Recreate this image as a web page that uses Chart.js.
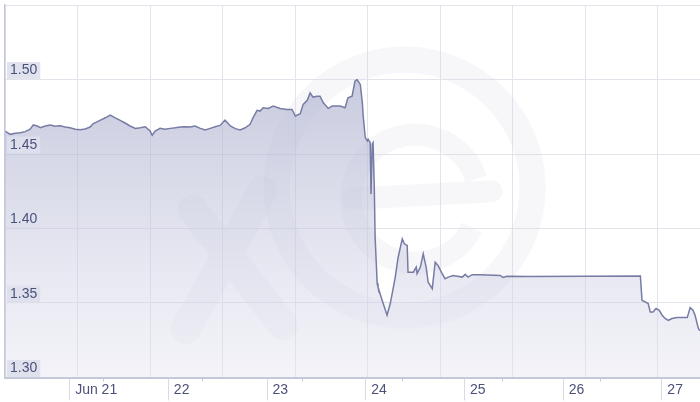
<!DOCTYPE html>
<html>
<head>
<meta charset="utf-8">
<script src="https://cdn.jsdelivr.net/npm/chart.js@4/dist/chart.umd.min.js"></script>
<style>
  html, body { margin: 0; padding: 0; background: #fff; }
  #wrap { width: 700px; height: 402px; }
</style>
</head>
<body>
<div id="wrap"><canvas id="rate" width="700" height="402"></canvas></div>
<script>
// time in hours counted from Jun 20 00:00, rate
const hours = [
  8.4, 9.7, 10.9, 12.1, 13.3, 14.5, 15.3, 16.2, 17.0, 18.2, 19.4, 20.6, 21.8, 23.0,
  24.2, 25.5, 26.7, 27.9, 29.1, 29.8, 31.5, 32.8, 34.0, 35.2, 36.4, 37.6, 38.8,
  40.1, 41.3, 42.5, 43.7, 44.2, 44.9, 46.1, 47.3, 48.6, 49.8, 51.0, 52.2, 53.4,
  54.6, 55.9, 57.1, 58.3, 59.5, 60.7, 61.9, 63.2, 64.4, 65.6, 66.8, 68.0, 68.7,
  69.7, 70.4, 71.2, 72.4, 73.6, 75.3, 77.0, 78.2, 79.0, 80.2, 80.9, 81.9, 82.6,
  83.3, 84.3, 85.0, 85.8, 87.0, 88.0, 89.2, 89.9, 91.1, 91.8, 92.8, 93.5, 94.0,
  94.8, 95.3, 95.5, 96.0, 96.5, 96.7, 97.2, 97.4, 97.7, 97.9, 98.2, 98.4, 98.9,
  99.1, 100.1, 101.3, 102.1, 103.3, 104.0, 105.0, 105.5, 106.2, 106.4, 107.7,
  108.4, 108.6, 109.4, 110.1, 110.8, 111.3, 112.3, 113.0, 113.7, 114.7, 115.4,
  116.2, 117.4, 119.6, 120.3, 121.0, 122.0, 123.9, 128.8, 129.5, 130.5, 136.1,
  162.9, 163.3, 164.1, 164.8, 165.3, 166.0, 166.7, 167.5, 168.2, 168.9, 169.7,
  170.6, 171.8, 173.3, 174.3, 175.0, 175.7, 176.2, 177.0, 177.4
];
const rates = [
  1.4654, 1.4632, 1.4639, 1.4643, 1.4650, 1.4666, 1.4695, 1.4688, 1.4676, 1.4688, 1.4695, 1.4686, 1.4690, 1.4681,
  1.4676, 1.4666, 1.4663, 1.4668, 1.4681, 1.4703, 1.4726, 1.4743, 1.4761, 1.4743, 1.4726, 1.4708, 1.4688,
  1.4672, 1.4676, 1.4683, 1.4654, 1.4626, 1.4654, 1.4672, 1.4666, 1.4672, 1.4676, 1.4681, 1.4683, 1.4681,
  1.4688, 1.4672, 1.4661, 1.4672, 1.4683, 1.4692, 1.4728, 1.4688, 1.4670, 1.4661, 1.4676, 1.4699, 1.4743,
  1.4793, 1.4788, 1.4810, 1.4806, 1.4822, 1.4806, 1.4799, 1.4799, 1.4755, 1.4770, 1.4833, 1.4860, 1.4910,
  1.4882, 1.4888, 1.4888, 1.4844, 1.4806, 1.4822, 1.4822, 1.4822, 1.4810, 1.4877, 1.4888, 1.4989, 1.5000,
  1.4967, 1.4842, 1.4755, 1.4610, 1.4588, 1.4599, 1.4576, 1.4231, 1.4566, 1.4576, 1.4275, 1.3941, 1.3632,
  1.3607, 1.3518, 1.3418, 1.3498, 1.3674, 1.3807, 1.3930, 1.3897, 1.3886, 1.3707, 1.3707,
  1.3741, 1.3697, 1.3741, 1.3830, 1.3741, 1.3640, 1.3596, 1.3774, 1.3752, 1.3697, 1.3663,
  1.3674, 1.3685, 1.3674, 1.3692, 1.3674, 1.3690, 1.3690, 1.3685, 1.3672, 1.3680, 1.3678,
  1.3682, 1.3518, 1.3507, 1.3496, 1.3440, 1.3440, 1.3463, 1.3451, 1.3418, 1.3396, 1.3384,
  1.3396, 1.3402, 1.3402, 1.3402, 1.3469, 1.3451, 1.3418, 1.3329, 1.3313
];

const dayTicks = [24, 48, 72, 96, 120, 144, 168];
const dayLabels = ['Jun 21', '22', '23', '24', '25', '26', '27'];
const minorTicks = [32.3, 56.3, 80.6, 104.9, 129.2, 153.1];
const gridHours = [8.4, 26.1, 43.7, 61.3, 79.0, 96.6, 114.2, 131.8, 149.5, 167.1];
const yTicks = [1.30, 1.35, 1.40, 1.45, 1.50, 1.55];

const X_MIN = 8.4, X_MAX = 177.4;
const GRID = '#e3e4eb';
const AXIS = '#c5c8db';
const TEXT = '#4c5179';
const FONT = { family: '"Liberation Sans", Arial, sans-serif', size: 14 };

function fillGrad(ctx) {
  const a = ctx.chart.chartArea;
  if (!a) return 'rgba(180,184,210,0.5)';
  const g = ctx.chart.ctx.createLinearGradient(0, a.top + 75, 0, a.bottom);
  g.addColorStop(0, 'rgba(164,168,202,0.6)');
  g.addColorStop(1, 'rgba(226,227,239,0.4)');
  return g;
}

function noPad(s) {
  s.paddingTop = 0; s.paddingBottom = 0; s.paddingLeft = 0; s.paddingRight = 0;
}

// faint xe logo behind the area
const watermark = {
  id: 'watermark',
  beforeDatasetsDraw(chart) {
    const { ctx, chartArea: a } = chart;
    const w = a.right - a.left, h = a.bottom - a.top;
    const px = f => a.left + f * w, py = f => a.top + f * h;
    ctx.save();
    ctx.beginPath(); ctx.rect(a.left, a.top, w, h); ctx.clip();
    ctx.strokeStyle = 'rgba(205,208,226,0.16)';
    ctx.lineWidth = 26;
    ctx.beginPath(); ctx.arc(px(0.575), py(0.49), 128, 0, Math.PI * 2); ctx.stroke();
    ctx.lineWidth = 22;
    ctx.beginPath(); ctx.arc(px(0.59), py(0.52), 64, Math.PI * 0.15, Math.PI * 1.9); ctx.stroke();
    ctx.lineCap = 'round';
    ctx.beginPath(); ctx.moveTo(px(0.5), py(0.52)); ctx.lineTo(px(0.7), py(0.5)); ctx.stroke();
    ctx.lineWidth = 30;
    ctx.beginPath();
    ctx.moveTo(px(0.27), py(0.55)); ctx.lineTo(px(0.4), py(0.86));
    ctx.moveTo(px(0.37), py(0.5)); ctx.lineTo(px(0.26), py(0.87));
    ctx.stroke();
    ctx.restore();
  }
};

// day separators and small ticks under the axis
const axisMarks = {
  id: 'axisMarks',
  afterDraw(chart) {
    const { ctx, chartArea: a } = chart;
    const x = chart.scales.x;
    ctx.save();
    ctx.strokeStyle = '#d9dae3';
    ctx.lineWidth = 1;
    dayTicks.forEach(v => {
      const p = Math.round(x.getPixelForValue(v)) + 0.5;
      ctx.beginPath(); ctx.moveTo(p, a.bottom + 1); ctx.lineTo(p, a.bottom + 23); ctx.stroke();
    });
    ctx.strokeStyle = '#c5c8db';
    minorTicks.forEach(v => {
      const p = Math.round(x.getPixelForValue(v)) + 0.5;
      ctx.beginPath(); ctx.moveTo(p, a.bottom + 1); ctx.lineTo(p, a.bottom + 4); ctx.stroke();
    });
    ctx.restore();
  }
};

new Chart(document.getElementById('rate'), {
  type: 'line',
  data: {
    datasets: [{
      data: hours.map((h, i) => ({ x: h, y: rates[i] })),
      borderColor: '#777ca4',
      borderWidth: 1.5,
      pointRadius: 0,
      tension: 0,
      fill: 'start',
      backgroundColor: fillGrad
    }]
  },
  options: {
    responsive: false,
    animation: false,
    devicePixelRatio: 1,
    layout: { padding: { left: 5, top: 5, right: 0, bottom: 0 } },
    plugins: { legend: { display: false }, tooltip: { enabled: false } },
    scales: {
      xg: {
        type: 'linear', position: 'bottom', weight: 0, min: X_MIN, max: X_MAX,
        afterBuildTicks: s => { s.ticks = gridHours.map(v => ({ value: v })); },
        afterFit: s => { s.height = 0; noPad(s); },
        grid: { color: GRID, drawTicks: false },
        border: { display: false },
        ticks: { display: false }
      },
      x: {
        type: 'linear', position: 'bottom', weight: 1, min: X_MIN, max: X_MAX,
        afterBuildTicks: s => { s.ticks = dayTicks.map(v => ({ value: v })); },
        afterFit: s => { s.height = 24.5; noPad(s); },
        grid: { drawOnChartArea: false, drawTicks: false, color: 'transparent' },
        border: { color: AXIS, width: 2, z: 1 },
        ticks: {
          autoSkip: false, maxRotation: 0, align: 'start', labelOffset: 6, padding: 4,
          color: TEXT, font: FONT,
          callback: v => dayLabels[dayTicks.indexOf(v)] ?? ''
        }
      },
      y: {
        min: 1.30, max: 1.55,
        afterBuildTicks: s => { s.ticks = yTicks.map(v => ({ value: v })); },
        afterFit: s => { s.width = 0; noPad(s); },
        grid: { color: GRID, drawTicks: false },
        border: { color: AXIS, width: 1.5, z: 1 },
        ticks: {
          mirror: true, padding: 5, labelOffset: -9, z: 1,
          color: TEXT, font: FONT,
          callback: v => (v < 1.54 ? v.toFixed(2) : ''),
          showLabelBackdrop: c => c.tick && c.tick.value < 1.54,
          backdropColor: 'rgba(221,223,237,0.92)',
          backdropPadding: { left: 3, right: 3, top: 0, bottom: 0 }
        }
      }
    }
  },
  plugins: [watermark, axisMarks]
});
</script>
</body>
</html>
